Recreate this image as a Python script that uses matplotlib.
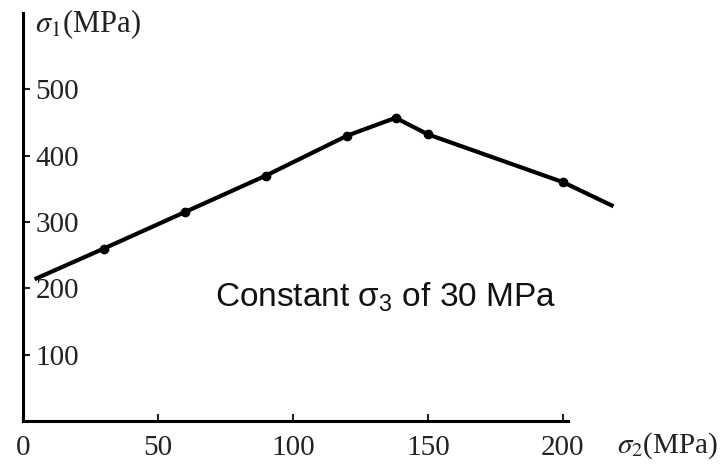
import matplotlib
matplotlib.use('Agg')
import matplotlib.pyplot as plt

# data
sigma2 = [5, 30, 60, 90, 120, 138, 150, 200, 218]
sigma1 = [215, 260, 315, 370, 430, 457, 432, 360, 325]
xticks = [0, 50, 100, 150, 200]
yticks = [100, 200, 300, 400, 500]

plt.rcParams['mathtext.fontset'] = 'stix'

fig = plt.figure(figsize=(7.28, 4.73), dpi=100)
ax = fig.add_axes([23 / 728, 52 / 473, 621 / 728, 408 / 473])
ax.set_xlim(0, 230)
ax.set_ylim(0, 615)

ax.plot(sigma2, sigma1, color='black', lw=3, marker='o', ms=6,
        markevery=range(1, len(sigma2) - 1), clip_on=False)

# axes look
for s in ['top', 'right']:
    ax.spines[s].set_visible(False)
ax.spines['left'].set_linewidth(2.2)
ax.spines['bottom'].set_linewidth(2.2)
ax.spines['bottom'].set_bounds(0, 202)

ax.set_xticks(xticks)
ax.set_yticks(yticks)
ax.tick_params(axis='both', direction='in', length=5, width=1.5, color='#222')
ax.tick_params(axis='y', pad=-9)
ax.tick_params(axis='x', pad=10)
for lab in ax.get_yticklabels():
    lab.set_ha('left')
for lab in ax.get_xticklabels() + ax.get_yticklabels():
    lab.set_family('Liberation Serif')
    lab.set_fontsize(21)
    lab.set_color('#222')

ax.text(71, 172, r'Constant $\mathregular{\sigma_3}$ of 30 MPa', fontsize=24,
        family='Liberation Sans', color='#111', va='baseline')

fig.text(0.048, 0.948, r'$\sigma_1$(MPa)', fontsize=22,
         family='Liberation Serif', va='center', ha='left', color='#222')
fig.text(0.848, 0.058, r'$\sigma_2$(MPa)', fontsize=21,
         family='Liberation Serif', va='center', ha='left', color='#222')

fig.savefig('out.png', dpi=100, facecolor='white')
